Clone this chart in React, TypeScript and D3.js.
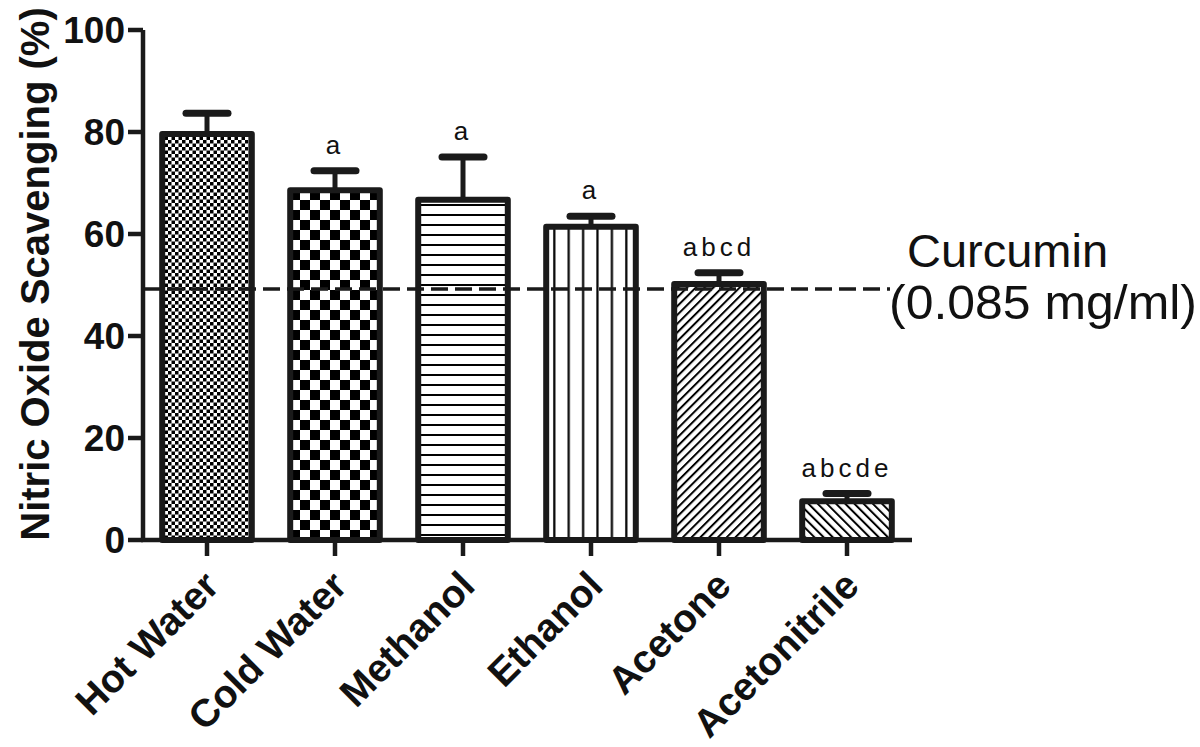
import React from "react";
import * as d3 from "d3";

const categories = ["Hot Water", "Cold Water", "Methanol", "Ethanol", "Acetone", "Acetonitrile"];
const means = [79.6, 68.6, 66.7, 61.4, 50.2, 7.6];
const errors = [4.1, 3.8, 8.4, 2.1, 2.2, 1.5];
const sigLetters = ["", "a", "a", "a", "abcd", "abcde"];
const patternIds = ["fineCheck", "bigCheck", "hLines", "vLines", "fwdDiag", "backDiag"];
const yTicks = [0, 20, 40, 60, 80, 100];
const curcuminValue = 49.2;
const curcuminLabel = ["Curcumin", "(0.085 mg/ml)"];
const yTitle = "Nitric Oxide Scavenging (%)";

export default function App() {
  const W = 1200, H = 747;
  const axX = 143, axY = 540, topY = 30, rightX = 911;
  const y = d3.scaleLinear().domain([0, 100]).range([axY, topY]);
  const x = d3.scaleBand<string>().domain(categories).range([axX, rightX]).paddingInner(0.3).paddingOuter(0.15);
  const bw = x.bandwidth();
  const font = "'Liberation Sans', Arial, Helvetica, sans-serif";

  return (
    <svg width={W} height={H} style={{ position: "absolute", left: 0, top: 0, background: "#fff" }} fontFamily={font}>
      <defs>
        <pattern id="fineCheck" patternUnits="userSpaceOnUse" width={7} height={7}>
          <rect width={7} height={7} fill="#fff" />
          <rect x={0} y={0} width={3.5} height={3.5} fill="#000" />
          <rect x={3.5} y={3.5} width={3.5} height={3.5} fill="#000" />
        </pattern>
        <pattern id="bigCheck" patternUnits="userSpaceOnUse" width={20} height={20} x={0} y={0}>
          <rect width={20} height={20} fill="#fff" />
          <rect x={0} y={0} width={10} height={10} fill="#000" />
          <rect x={10} y={10} width={10} height={10} fill="#000" />
        </pattern>
        <pattern id="hLines" patternUnits="userSpaceOnUse" width={10} height={10}>
          <rect width={10} height={10} fill="#fff" />
          <rect x={0} y={4} width={10} height={2} fill="#000" />
        </pattern>
        <pattern id="vLines" patternUnits="userSpaceOnUse" width={14.4} height={10}>
          <rect width={14.4} height={10} fill="#fff" />
          <rect x={6} y={0} width={2.2} height={10} fill="#000" />
        </pattern>
        <pattern id="fwdDiag" patternUnits="userSpaceOnUse" width={6.2} height={10} patternTransform="rotate(45)">
          <rect width={6.2} height={10} fill="#fff" />
          <rect x={0} y={0} width={2} height={10} fill="#000" />
        </pattern>
        <pattern id="backDiag" patternUnits="userSpaceOnUse" width={6.5} height={10} patternTransform="rotate(-45)">
          <rect width={6.5} height={10} fill="#fff" />
          <rect x={0} y={0} width={2} height={10} fill="#000" />
        </pattern>
      </defs>

      {/* Y axis title */}
      <text
        transform={`translate(49, ${(axY + 8) / 2}) rotate(-90)`}
        textAnchor="middle"
        fontWeight="bold"
        fontSize={40}
        fill="#111"
      >
        {yTitle}
      </text>

      {/* Bars */}
      {categories.map((c, i) => {
        const x0 = x(c)!;
        const yt = y(means[i]);
        return (
          <g key={c}>
            <line x1={x0 + bw / 2} x2={x0 + bw / 2} y1={yt} y2={y(means[i] + errors[i])} stroke="#1a1a1a" strokeWidth={5} />
            <line x1={x0 + bw / 2 - 21} x2={x0 + bw / 2 + 21} y1={y(means[i] + errors[i])} y2={y(means[i] + errors[i])} stroke="#1a1a1a" strokeWidth={7} strokeLinecap="round" />
            <rect x={x0} y={yt} width={bw} height={axY - yt} fill={`url(#${patternIds[i]})`} stroke="#1a1a1a" strokeWidth={6} strokeLinejoin="round" />
            {sigLetters[i] && (
              <text x={x0 + bw / 2} y={y(means[i] + errors[i]) - 17} textAnchor="middle" fontSize={26} letterSpacing={4} fill="#111">
                {sigLetters[i]}
              </text>
            )}
          </g>
        );
      })}

      {/* Y axis */}
      <line x1={axX} x2={axX} y1={topY} y2={axY + 2} stroke="#1a1a1a" strokeWidth={4.5} />
      {yTicks.map((t) => (
        <g key={t}>
          <line x1={axX - 15} x2={axX} y1={y(t)} y2={y(t)} stroke="#1a1a1a" strokeWidth={4.5} />
          <text x={axX - 18} y={y(t) + 13} textAnchor="end" fontWeight="bold" fontSize={37} fill="#111">
            {t}
          </text>
        </g>
      ))}

      {/* X axis */}
      <line x1={axX - 2} x2={rightX + 1} y1={axY} y2={axY} stroke="#1a1a1a" strokeWidth={4.5} />
      {categories.map((c) => {
        const cx = x(c)! + bw / 2;
        return (
          <g key={c}>
            <line x1={cx} x2={cx} y1={axY} y2={axY + 16} stroke="#1a1a1a" strokeWidth={4.5} />
            <text transform={`translate(${cx + 14}, ${axY + 48}) rotate(-45)`} textAnchor="end" fontWeight="bold" fontSize={39} fill="#111">
              {c}
            </text>
          </g>
        );
      })}

      {/* Curcumin reference line */}
      <line x1={axX} x2={890} y1={y(curcuminValue)} y2={y(curcuminValue)} stroke="#1a1a1a" strokeWidth={3.5} strokeDasharray="17 7" />
      <text x={907} y={267} fontSize={47} fill="#111">{curcuminLabel[0]}</text>
      <text x={889} y={319} fontSize={49} textLength={308} lengthAdjust="spacingAndGlyphs" fill="#111">{curcuminLabel[1]}</text>
    </svg>
  );
}
